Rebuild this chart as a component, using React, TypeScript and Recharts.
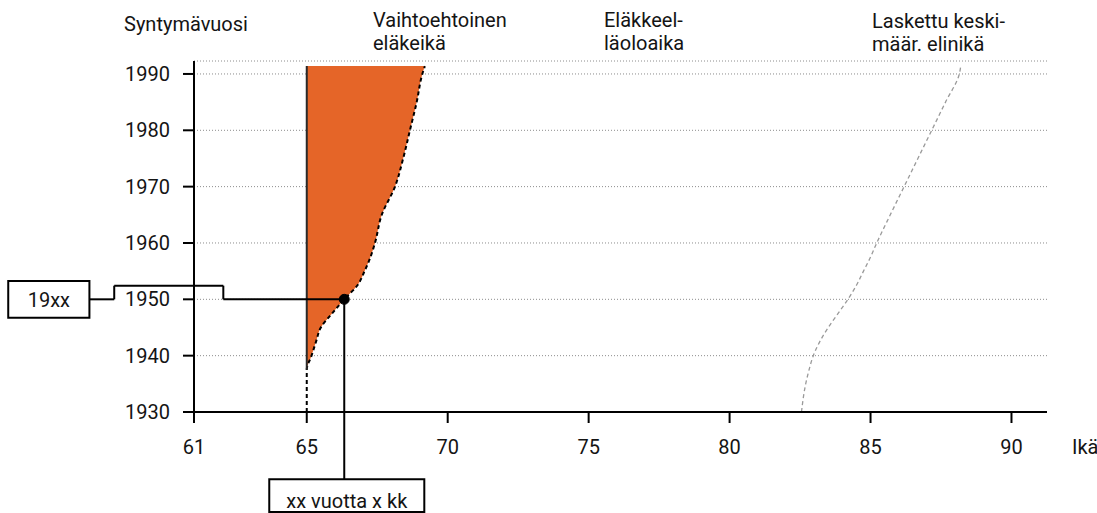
import React from 'react'
import {
  ComposedChart,
  Area,
  Line,
  XAxis,
  YAxis,
  CartesianGrid,
  ReferenceLine,
  ReferenceDot,
  ReferenceArea,
} from 'recharts'

// birth years (y axis) and the ages
const birthYears = [1930, 1935, 1937.5, 1940, 1942.5, 1945, 1947.5, 1950, 1952.5, 1955, 1957.5, 1960, 1965, 1970, 1975, 1980, 1985, 1990, 1991.4]
const altRetirementAge = [65, 65, 65, 65.17, 65.33, 65.5, 65.9, 66.33, 66.8, 67.05, 67.26, 67.42, 67.66, 68.13, 68.42, 68.66, 68.9, 69.1, 69.19]
const lifeExpectancy = [82.55, 82.7, 82.82, 82.97, 83.2, 83.5, 83.85, 84.2, 84.5, 84.75, 85.0, 85.22, 85.7, 86.19, 86.68, 87.17, 87.66, 88.15, 88.2]

const ageTicks = [61, 65, 70, 75, 80, 85, 90]
const yearTicks = [1930, 1940, 1950, 1960, 1970, 1980, 1990]

const exampleYear = 1950
const exampleAge = 66.33

const rows = birthYears.map((year, i) => ({
  year,
  alt: altRetirementAge[i],
  life: lifeExpectancy[i],
}))

const INK = '#141414'
const FONT = 'Roboto, "DejaVu Sans", sans-serif'

const headStyle: React.CSSProperties = {
  position: 'absolute',
  fontSize: 20,
  lineHeight: '23px',
  color: INK,
  whiteSpace: 'pre',
}

export default function App() {
  return (
    <div style={{ position: 'absolute', left: 0, top: 0, width: 1097, height: 513, background: '#fff', fontFamily: FONT, overflow: 'hidden' }}>
      <ComposedChart
        width={1097}
        height={513}
        layout="vertical"
        data={rows}
        margin={{ top: 61, right: 50, bottom: 41, left: 0 }}
        style={{ overflow: 'visible' }}
      >
        <CartesianGrid vertical={false} stroke="#8c8c8c" strokeDasharray="1 2" />
        <XAxis
          type="number"
          domain={[61, 91.26]}
          allowDataOverflow
          ticks={ageTicks}
          height={60}
          tickSize={11}
          tickMargin={17}
          axisLine={{ stroke: '#000', strokeWidth: 2 }}
          tickLine={{ stroke: '#000', strokeWidth: 2 }}
          tick={{ fill: INK, fontSize: 20 }}
        />
        <YAxis
          type="number"
          dataKey="year"
          domain={[1930, 1992.3]}
          allowDataOverflow
          reversed
          ticks={yearTicks}
          width={194}
          tickSize={11}
          tickMargin={13}
          axisLine={{ stroke: '#000', strokeWidth: 2 }}
          tickLine={{ stroke: '#000', strokeWidth: 2 }}
          tick={{ fill: INK, fontSize: 20 }}
        />
        <Area
          dataKey="alt"
          type="monotone"
          baseValue={65}
          fill="#e56528"
          fillOpacity={1}
          stroke="#000"
          strokeWidth={2}
          strokeDasharray="4 3"
          isAnimationActive={false}
        />
        <ReferenceLine
          segment={[{ x: 65, y: 1937.5 }, { x: 65, y: 1991.4 }]}
          stroke="#2a2a2a"
          strokeWidth={2}
        />
        <Line
          dataKey="life"
          type="monotone"
          stroke="#9a9a9a"
          strokeWidth={1.3}
          strokeDasharray="4 3"
          dot={false}
          activeDot={false}
          isAnimationActive={false}
        />

        {/* 19xx connector */}
        <ReferenceLine segment={[{ x: exampleAge, y: exampleYear }, { x: 62.04, y: exampleYear }]} stroke="#000" strokeWidth={2} ifOverflow="visible" />
        <ReferenceLine segment={[{ x: 62.04, y: exampleYear }, { x: 62.04, y: 1952.42 }]} stroke="#000" strokeWidth={2} ifOverflow="visible" />
        <ReferenceLine segment={[{ x: 62.04, y: 1952.42 }, { x: 58.17, y: 1952.42 }]} stroke="#000" strokeWidth={2} ifOverflow="visible" />
        <ReferenceLine segment={[{ x: 58.17, y: 1952.42 }, { x: 58.17, y: exampleYear }]} stroke="#000" strokeWidth={2} ifOverflow="visible" />
        <ReferenceLine segment={[{ x: 58.17, y: exampleYear }, { x: 57.29, y: exampleYear }]} stroke="#000" strokeWidth={2} ifOverflow="visible" />
        <ReferenceArea
          x1={54.41}
          x2={57.29}
          y1={1946.74}
          y2={1953.25}
          fill="#fff"
          fillOpacity={1}
          stroke="#000"
          strokeWidth={2}
          ifOverflow="visible"
          label={{ value: '19xx', position: 'insideBottom', offset: 11, fill: INK, fontSize: 20 }}
        />

        {/* age connector */}
        <ReferenceLine segment={[{ x: exampleAge, y: exampleYear }, { x: exampleAge, y: 1918.05 }]} stroke="#000" strokeWidth={2} ifOverflow="visible" />
        <ReferenceArea
          x1={63.67}
          x2={69.17}
          y1={1912.25}
          y2={1918.05}
          fill="#fff"
          fillOpacity={1}
          stroke="#000"
          strokeWidth={2}
          ifOverflow="visible"
          label={{ value: 'xx vuotta x kk', position: 'insideBottom', offset: 4, fill: INK, fontSize: 20 }}
        />
        <ReferenceDot x={exampleAge} y={exampleYear} r={5} fill="#000" stroke="#000" ifOverflow="visible" />
      </ComposedChart>

      <div style={{ ...headStyle, left: 124, top: 13 }}>Syntymävuosi</div>
      <div style={{ ...headStyle, left: 373, top: 9 }}>{'Vaihtoehtoinen\neläkeikä'}</div>
      <div style={{ ...headStyle, left: 604, top: 9 }}>{'Eläkkeel-\nläoloaika'}</div>
      <div style={{ ...headStyle, left: 872, top: 10 }}>{'Laskettu keski-\nmäär. elinikä'}</div>
      <div style={{ ...headStyle, left: 1072, top: 436 }}>Ikä</div>
    </div>
  )
}
